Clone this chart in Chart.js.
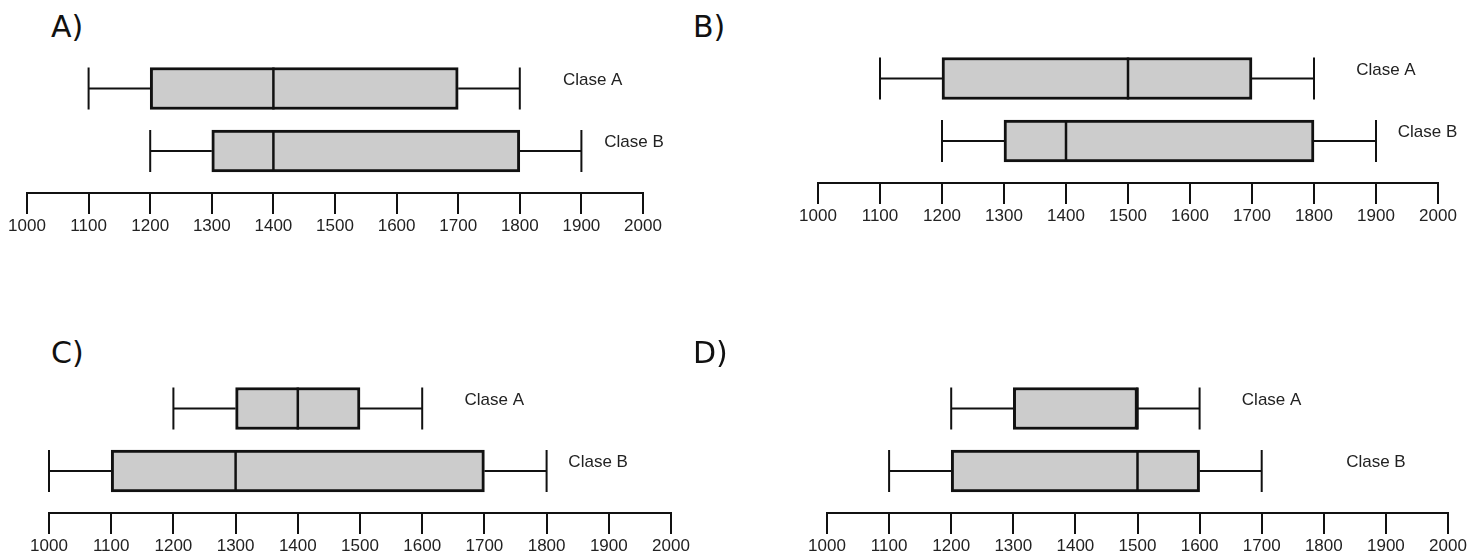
<!DOCTYPE html>
<html>
<head>
<meta charset="utf-8">
<title>Clase A / Clase B</title>
<script src="https://cdn.jsdelivr.net/npm/chart.js@4.4.0/dist/chart.umd.min.js"></script>
<style>
    body {
        margin: 0;
        width: 1480px;
        height: 554px;
        position: relative;
        overflow: hidden;
        background: #fff;
    }
    .panel-title {
        position: absolute;
        font-family: 'DejaVu Sans', sans-serif;
        font-size: 30px;
        line-height: 30px;
        color: #111;
    }
    canvas {
        position: absolute;
    }
</style>
</head>
<body>
<script>
// Panel names and the two groups in each panel
const panelTitles = ['A)', 'B)', 'C)', 'D)'];
const categories = ['Clase A', 'Clase B'];

// Five-number summaries, one pair [Clase A, Clase B] per panel
const minimum       = [[1100, 1200], [1100, 1200], [1200, 1000], [1200, 1100]];
const lowerQuartile = [[1200, 1300], [1200, 1300], [1300, 1100], [1300, 1200]];
const median        = [[1400, 1400], [1500, 1400], [1400, 1300], [1500, 1500]];
const upperQuartile = [[1700, 1800], [1700, 1800], [1500, 1700], [1500, 1600]];
const maximum       = [[1800, 1900], [1800, 1900], [1600, 1800], [1600, 1700]];

// Axis range
const axisMin = 1000;
const axisMax = 2000;
const axisStep = 100;

// Where each panel sits on the page (pixels); labelAt is in axis units
const layout = [
    { left: 27,  right: 643,  axisY: 193, titleX: 51,  titleY: 12,  labelAt: [1870, 1937] },
    { left: 818, right: 1438, axisY: 183, titleX: 693, titleY: 12,  labelAt: [1868, 1935] },
    { left: 49,  right: 671,  axisY: 513, titleX: 51,  titleY: 338, labelAt: [1668, 1835] },
    { left: 827, right: 1448, axisY: 513, titleX: 693, titleY: 338, labelAt: [1668, 1836] }
];

const SIDE_PAD = 40;
const TOP_PAD = 10;
const PLOT_H = 167;
const AXIS_H = 46;
const TEXT_FONT = '"Liberation Sans", Arial, sans-serif';

// Whiskers, medians and group names, drawn on top of the floating bars
const boxExtras = {
    id: 'boxExtras',
    afterDatasetsDraw(chart, args, opts) {
        const ctx = chart.ctx;
        const xs = chart.scales.x;
        const bars = chart.getDatasetMeta(0).data;
        const p = opts.panel;

        ctx.save();
        bars.forEach((bar, i) => {
            const yc = bar.y;
            const half = bar.height / 2;
            const xMin = xs.getPixelForValue(minimum[p][i]);
            const xQ1 = xs.getPixelForValue(lowerQuartile[p][i]);
            const xMed = xs.getPixelForValue(median[p][i]);
            const xQ3 = xs.getPixelForValue(upperQuartile[p][i]);
            const xMax = xs.getPixelForValue(maximum[p][i]);

            ctx.strokeStyle = '#111';
            ctx.lineWidth = 2;
            ctx.beginPath();
            // whisker stems
            ctx.moveTo(xMin, yc); ctx.lineTo(xQ1, yc);
            ctx.moveTo(xQ3, yc); ctx.lineTo(xMax, yc);
            // end caps
            ctx.moveTo(xMin, yc - half); ctx.lineTo(xMin, yc + half);
            ctx.moveTo(xMax, yc - half); ctx.lineTo(xMax, yc + half);
            ctx.stroke();

            // median
            ctx.lineWidth = 2.5;
            ctx.beginPath();
            ctx.moveTo(xMed, yc - half); ctx.lineTo(xMed, yc + half);
            ctx.stroke();

            // group name
            ctx.fillStyle = '#222';
            ctx.font = '17px ' + TEXT_FONT;
            ctx.textAlign = 'left';
            ctx.textBaseline = 'middle';
            ctx.fillText(categories[i], xs.getPixelForValue(layout[p].labelAt[i]), yc - 8.5);
        });
        ctx.restore();
    }
};

layout.forEach((L, p) => {
    const title = document.createElement('div');
    title.className = 'panel-title';
    title.textContent = panelTitles[p];
    title.style.left = L.titleX + 'px';
    title.style.top = L.titleY + 'px';
    document.body.appendChild(title);

    const canvas = document.createElement('canvas');
    canvas.width = L.right - L.left + 2 * SIDE_PAD;
    canvas.height = TOP_PAD + PLOT_H + AXIS_H;
    canvas.style.left = (L.left - SIDE_PAD) + 'px';
    canvas.style.top = (L.axisY - PLOT_H - TOP_PAD) + 'px';
    document.body.appendChild(canvas);

    new Chart(canvas, {
        type: 'bar',
        data: {
            datasets: [{
                data: categories.map((c, i) => ({ y: i + 1, x: [lowerQuartile[p][i], upperQuartile[p][i]] })),
                backgroundColor: '#cccccc',
                borderColor: '#111',
                borderWidth: 3,
                borderSkipped: false,
                barThickness: 42
            }]
        },
        options: {
            indexAxis: 'y',
            responsive: false,
            animation: false,
            events: [],
            layout: { padding: { left: SIDE_PAD, right: SIDE_PAD, top: TOP_PAD, bottom: 0 } },
            scales: {
                x: {
                    type: 'linear',
                    min: axisMin,
                    max: axisMax,
                    bounds: 'data',
                    offset: false,
                    afterFit: s => { s.height = AXIS_H; },
                    ticks: {
                        stepSize: axisStep,
                        autoSkip: false,
                        maxRotation: 0,
                        padding: 2,
                        color: '#222',
                        font: { family: TEXT_FONT, size: 17 },
                        callback: v => String(v)
                    },
                    grid: {
                        drawOnChartArea: false,
                        drawTicks: true,
                        tickLength: 21,
                        color: '#111',
                        lineWidth: 2
                    },
                    border: { display: true, color: '#111', width: 2 }
                },
                y: {
                    type: 'linear',
                    display: false,
                    reverse: true,
                    offset: false,
                    min: 0,
                    max: 2.672,
                    bounds: 'data',
                    grid: { offset: false }
                }
            },
            plugins: {
                legend: { display: false },
                tooltip: { enabled: false },
                boxExtras: { panel: p }
            }
        },
        plugins: [boxExtras]
    });
});
</script>
</body>
</html>
